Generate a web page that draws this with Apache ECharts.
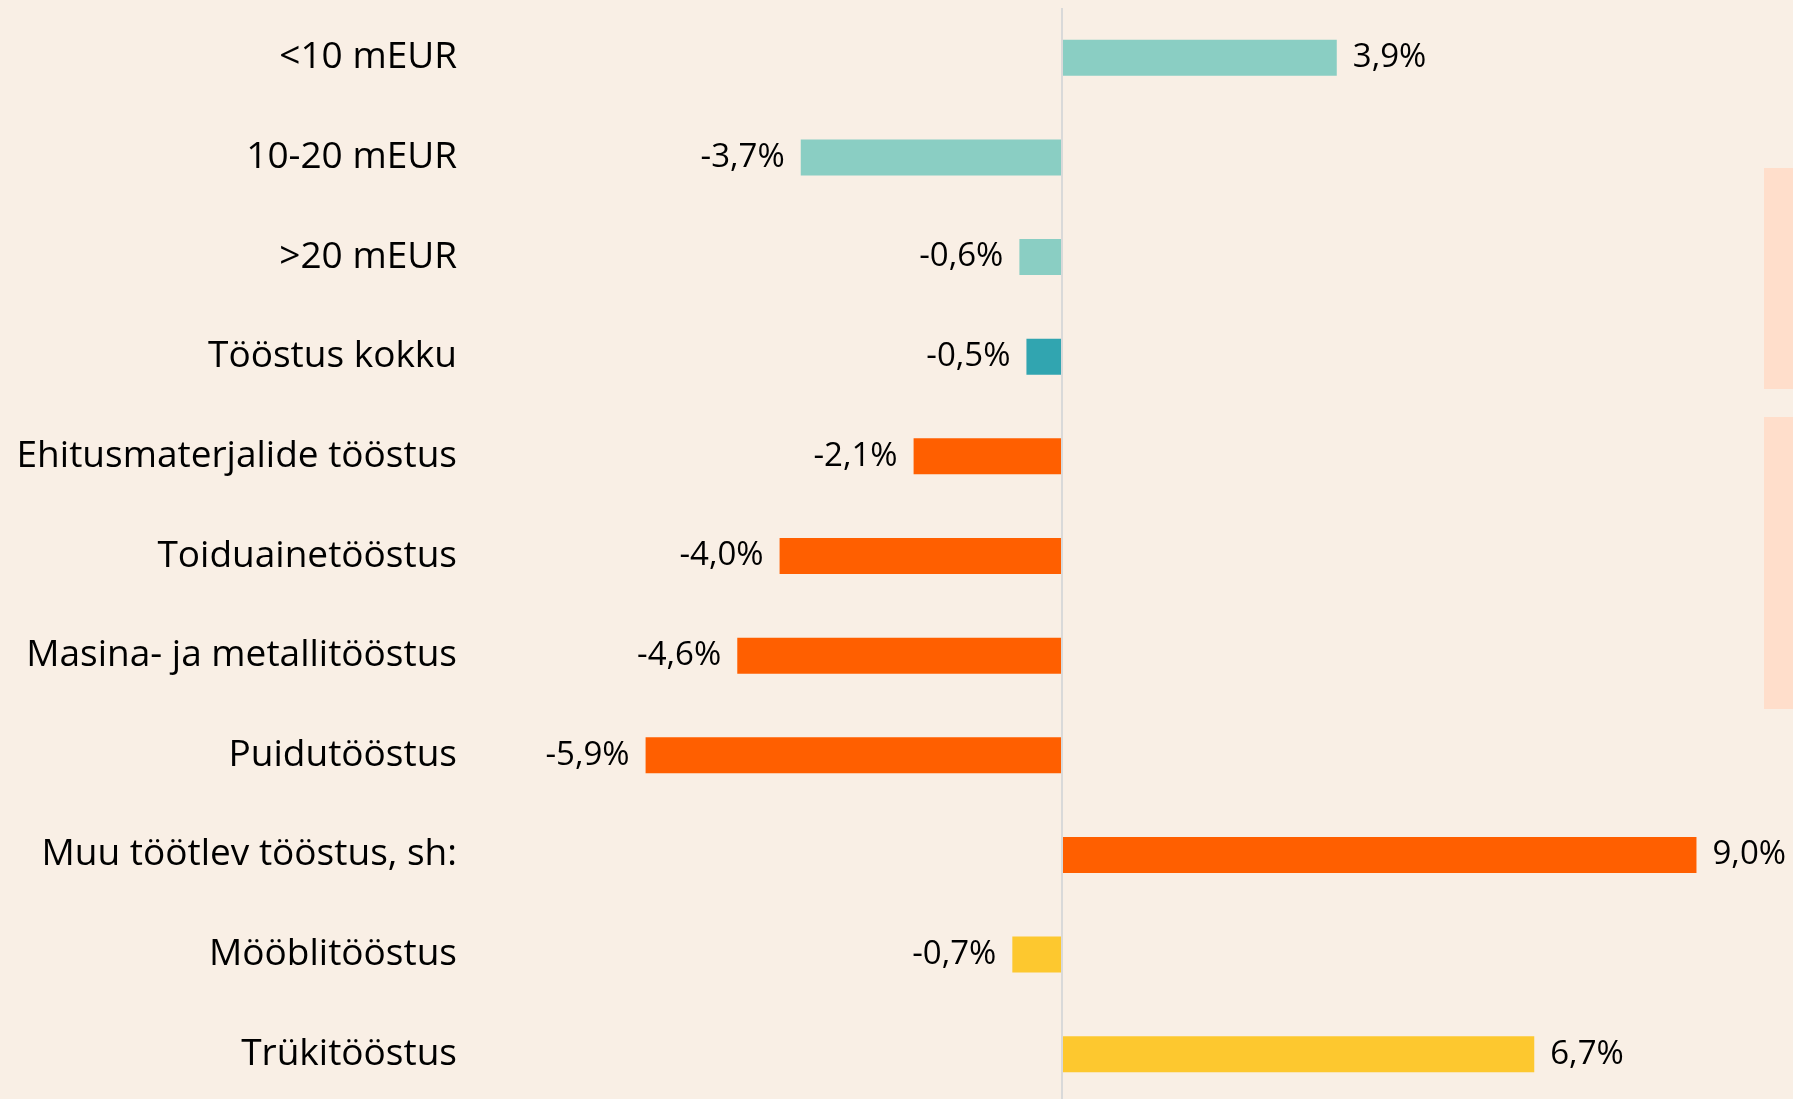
<!DOCTYPE html>
<html lang="et">
<head>
    <meta charset="UTF-8">
    <title>Muutus</title>
    <script src="https://cdn.jsdelivr.net/npm/echarts@6/dist/echarts.min.js"></script>
    <style>
        html, body { margin: 0; padding: 0; background: #F9EFE5; }
        #app { width: 1793px; height: 1099px; }
    </style>
</head>
<body>
    <div id="app"></div>
    <script>
        // andmed
        var categories = ['<10 mEUR', '10-20 mEUR', '>20 mEUR', 'Tööstus kokku',
            'Ehitusmaterjalide tööstus', 'Toiduainetööstus', 'Masina- ja metallitööstus',
            'Puidutööstus', 'Muu töötlev tööstus, sh:', 'Mööblitööstus', 'Trükitööstus'];
        var values = [3.9, -3.7, -0.6, -0.5, -2.1, -4.0, -4.6, -5.9, 9.0, -0.7, 6.7];
        var groups = ['size', 'size', 'size', 'total', 'branch', 'branch', 'branch', 'branch', 'branch', 'sub', 'sub'];

        var groupColors = {
            size: '#8ACEC3',
            total: '#31A5B0',
            branch: '#FF5F00',
            sub: '#FDC82F'
        };

        var myChart = echarts.init(document.getElementById('app'));

        var seriesData = [];
        for (var i = 0; i < values.length; i++) {
            seriesData.push({
                value: values[i],
                itemStyle: { color: groupColors[groups[i]] },
                label: { position: values[i] < 0 ? 'left' : 'right' }
            });
        }

        var option = {
            backgroundColor: '#F9EFE5',
            animation: false,
            grid: {
                left: 568,
                width: 1199,
                top: 8,
                height: 1096,
                outerBoundsMode: 'none'
            },
            xAxis: {
                type: 'value',
                min: -7,
                max: 10,
                show: false
            },
            yAxis: {
                type: 'category',
                inverse: true,
                data: categories,
                axisLine: { show: false },
                axisTick: { show: false },
                axisLabel: {
                    margin: 111,
                    color: '#000',
                    fontFamily: '"Open Sans", sans-serif',
                    fontSize: 37
                }
            },
            graphic: [
                { type: 'rect', left: 1764, top: 168, shape: { width: 29, height: 221 }, style: { fill: '#FFDECB' }, silent: true },
                { type: 'rect', left: 1764, top: 417, shape: { width: 29, height: 292 }, style: { fill: '#FFDECB' }, silent: true }
            ],
            series: [{
                type: 'bar',
                data: seriesData,
                barWidth: 36,
                label: {
                    show: true,
                    distance: 16,
                    color: '#000',
                    fontFamily: '"Open Sans", sans-serif',
                    fontSize: 33,
                    formatter: function (p) {
                        return String(p.value.toFixed(1)).replace('.', ',') + '%';
                    }
                },
                markLine: {
                    silent: true,
                    symbol: 'none',
                    label: { show: false },
                    lineStyle: { color: '#D9D9D9', width: 2, type: 'solid' },
                    data: [{ xAxis: 0 }]
                }
            }]
        };
        myChart.setOption(option);
    </script>
</body>
</html>
